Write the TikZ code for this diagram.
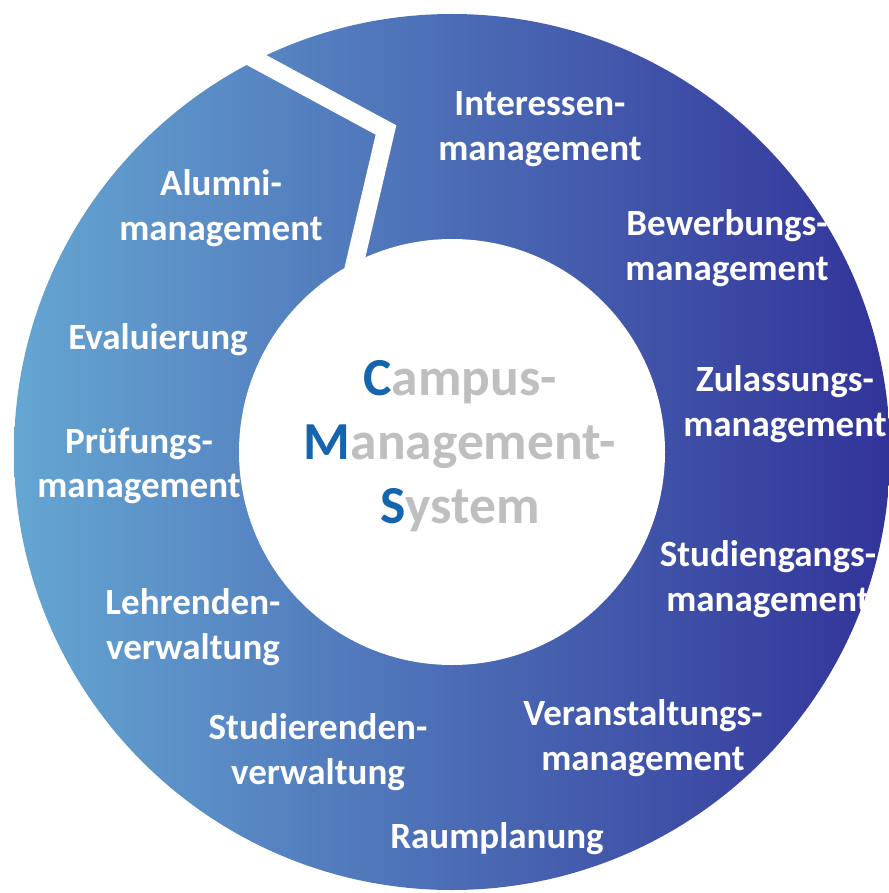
\documentclass[tikz,border=0pt]{standalone}
\usepackage{fontspec}
\setmainfont{Carlito}
\definecolor{ringlight}{HTML}{65A6D2}
\definecolor{ringmid}{HTML}{507BB8}
\definecolor{ringdark}{HTML}{323399}
\definecolor{cmsblue}{HTML}{1565AE}
\definecolor{cmsgrey}{HTML}{BFBFBF}
\begin{document}
\begin{tikzpicture}
  [x=1pt,y=-1pt,every node/.style={text=white,font=\fontsize{37}{44.5}\selectfont\bfseries,align=center,inner sep=0pt}]
\useasboundingbox (0,0) rectangle (888,893);
  \coordinate (c) at (452,452);
  \shade[left color=ringlight,middle color=ringmid,right color=ringdark] (c) circle (438);
  \fill[white] (c) circle (213);

  % the cut in the ring
  \coordinate (k1) at (236,49);
  \coordinate (k2) at (386,130);
  \coordinate (k3) at (352,275);
  \draw[white,line width=18,line join=miter] (k1) -- (k2) -- (k3);

  \node (m1) at (540,129) {Interessen-\\management};
  \node (m2) at (727,248) {Bewerbungs-\\management};
  \node (m3) at (785,404) {Zulassungs-\\management};
  \node (m4) at (768,579) {Studiengangs-\\management};
  \node (m5) at (643,738) {Veranstaltungs-\\management};
  \node (m6) at (497,839) {Raumplanung};
  \node (m7) at (318,752) {Studierenden-\\verwaltung};
  \node (m8) at (193,627) {Lehrenden-\\verwaltung};
  \node (m9) at (139,466) {Prüfungs-\\management};
  \node (m10) at (158,340) {Evaluierung};
  \node (m11) at (221,208) {Alumni-\\management};

  \node[text=cmsgrey,font=\fontsize{53.5}{64}\selectfont\bfseries] (cms) at (460,446)
    {\textcolor{cmsblue}{C}ampus-\\\textcolor{cmsblue}{M}anagement-\\\textcolor{cmsblue}{S}ystem};
\end{tikzpicture}
\end{document}
